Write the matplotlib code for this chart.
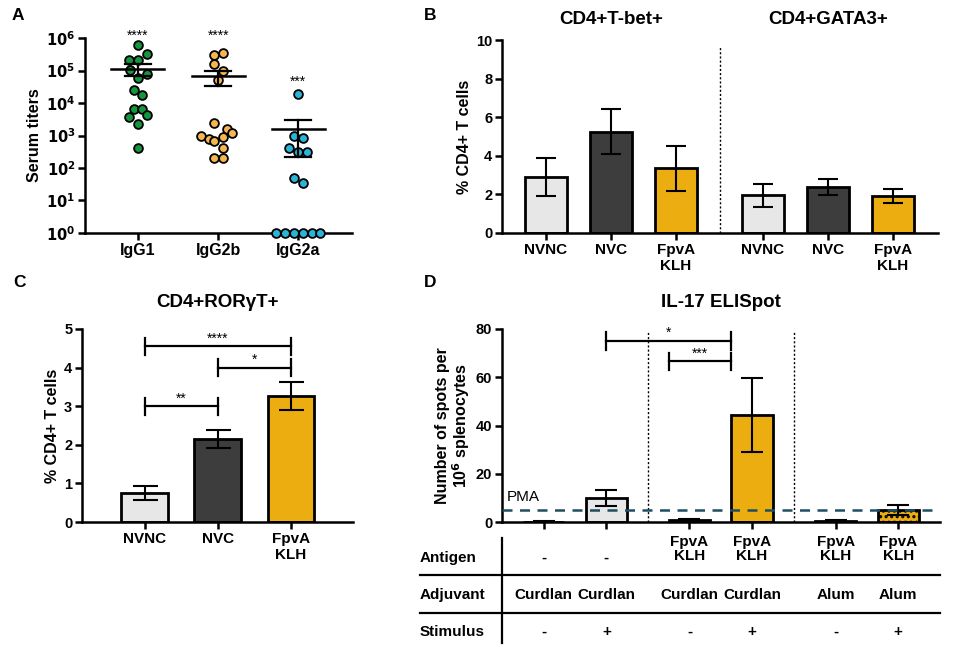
import numpy as np
import matplotlib
matplotlib.use("Agg")
import matplotlib.pyplot as plt
from matplotlib.lines import Line2D
import matplotlib.transforms as mtransforms

plt.rcParams['font.family'] = ['Liberation Sans', 'DejaVu Sans']
plt.rcParams['font.weight'] = 'bold'
plt.rcParams['hatch.linewidth'] = 1.5

# ---------------- Panel A data ----------------
a_groups = ["IgG1", "IgG2b", "IgG2a"]
a_igg1 = [5.9e5, 3.2e5, 2.1e5, 2.1e5, 1.07e5, 8e4, 5.9e4, 2.6e4, 1.8e4,
          6.6e3, 6.6e3, 3.7e3, 4.4e3, 2.3e3, 400]
a_igg1_dx = [0, 0.33, -0.33, 0, -0.3, 0.33, 0, -0.15, 0.17, -0.15, 0.17, -0.33, 0.33, 0, 0]
a_igg2b = [3.1e5, 3.5e5, 1.6e5, 1e5, 5.2e4, 2.4e3, 1.6e3, 1.2e3, 1e3, 8e2, 9e2,
           660, 420, 200, 200]
a_igg2b_dx = [-0.17, 0.17, -0.17, 0.17, 0, -0.17, 0.33, 0.5, -0.65, -0.33, 0.17,
              -0.17, 0.17, -0.17, 0.17]
a_igg2a = [1.9e4, 1e3, 830, 420, 300, 300, 51, 35, 1, 1, 1, 1, 1, 1]
a_igg2a_dx = [0, -0.17, 0.17, -0.33, 0, 0.33, -0.17, 0.17, -0.82, -0.5, -0.17, 0.17, 0.5, 0.82]
a_mean = [1.1e5, 6.6e4, 1.6e3]
a_sem_lo = [6.6e4, 3.4e4, 220]
a_sem_hi = [1.55e5, 9.5e4, 2.9e3]
a_stars = ["****", "****", "***"]
a_star_y = [1.15e6, 1.15e6, 4.5e4]
a_colors = ["#149540", "#f5b64e", "#2ab4d8"]

# ---------------- Panel B data ----------------
b_labels = ["NVNC", "NVC", "FpvA\nKLH", "NVNC", "NVC", "FpvA\nKLH"]
b_tbet = [2.9, 5.25, 3.35]
b_tbet_err = [1.0, 1.15, 1.17]
b_gata3 = [1.95, 2.4, 1.92]
b_gata3_err = [0.6, 0.42, 0.35]
b_titles = ["CD4+T-bet+", "CD4+GATA3+"]

# ---------------- Panel C data ----------------
c_labels = ["NVNC", "NVC", "FpvA\nKLH"]
c_vals = [0.75, 2.15, 3.27]
c_err = [0.18, 0.24, 0.36]
c_sig = [(0, 2, 4.55, "****"), (1, 2, 4.0, "*"), (0, 1, 3.0, "**")]

# ---------------- Panel D data ----------------
d_vals = [0.0, 10.1, 0.7, 44.2, 0.5, 5.0]
d_err = [0.3, 3.3, 0.6, 15.3, 0.4, 2.1]
d_pma = 4.8
d_sig = [(1, 3, 75.0, "*"), (2, 3, 66.6, "***")]
d_antigen = ["-", "-", "FpvA\nKLH", "FpvA\nKLH", "FpvA\nKLH", "FpvA\nKLH"]
d_adjuvant = ["Curdlan", "Curdlan", "Curdlan", "Curdlan", "Alum", "Alum"]
d_stimulus = ["-", "+", "-", "+", "-", "+"]
d_rows = ["Antigen", "Adjuvant", "Stimulus"]

COL3 = ["#e6e7e6", "#3d3d3d", "#ebad10"]

W, H = 957, 646
fig = plt.figure(figsize=(W / 100, H / 100), dpi=100)


def ax_px(l, r, t, b):
    return fig.add_axes([l / W, 1 - b / H, (r - l) / W, (b - t) / H])


def style(ax):
    for s in ["top", "right"]:
        ax.spines[s].set_visible(False)
    for s in ["left", "bottom"]:
        ax.spines[s].set_linewidth(1.8)
    ax.tick_params(width=1.8, length=5, labelsize=10.5, pad=2)
    for lab in ax.get_xticklabels() + ax.get_yticklabels():
        lab.set_fontweight('bold')


LW_BAR = 2.0
LW_ERR = 1.5

# ---------------- Panel A ----------------
axA = ax_px(85, 352, 38, 233)
axA.set_yscale('log')
axA.set_ylim(1, 1e6)
axA.set_xlim(-0.66, 2.67)
for i, (vals, dx) in enumerate([(a_igg1, a_igg1_dx), (a_igg2b, a_igg2b_dx), (a_igg2a, a_igg2a_dx)]):
    axA.scatter(np.array(dx) * 0.335 + i, vals, s=40, color=a_colors[i],
                edgecolor='black', linewidth=1.3, zorder=3, clip_on=False)
    axA.plot([i - 0.33, i + 0.33], [a_mean[i]] * 2, color='black', lw=1.8, zorder=4)
    axA.plot([i, i], [a_sem_lo[i], a_sem_hi[i]], color='black', lw=1.6, zorder=4)
    for y in (a_sem_lo[i], a_sem_hi[i]):
        axA.plot([i - 0.16, i + 0.16], [y, y], color='black', lw=1.6, zorder=4)
    axA.text(i, a_star_y[i], a_stars[i], ha='center', va='center', fontsize=10,
             fontweight='normal')
axA.set_xticks(range(3))
axA.set_xticklabels(a_groups)
axA.set_yticks([10.0 ** k for k in range(7)])
axA.set_yticklabels([r"$\mathbf{10^{%d}}$" % k for k in range(7)])
axA.minorticks_off()
axA.set_ylabel("Serum titers", fontsize=11.5, fontweight='bold', labelpad=3)
style(axA)
axA.tick_params(axis='x', labelsize=11.5)

# ---------------- Panel B ----------------
axB = ax_px(502, 938, 40, 233)
b_pos = [0, 1, 2, 3.33, 4.33, 5.33]
b_vals = b_tbet + b_gata3
b_errs = b_tbet_err + b_gata3_err
axB.bar(b_pos, b_vals, width=0.64, color=COL3 + COL3, edgecolor='black',
        linewidth=LW_BAR, zorder=2)
axB.errorbar(b_pos, b_vals, yerr=b_errs, fmt='none', ecolor='black',
             elinewidth=LW_ERR, capsize=7.5, capthick=LW_ERR, zorder=3)
axB.set_xlim(-0.67, 6.02)
axB.set_ylim(0, 10)
axB.set_yticks([0, 2, 4, 6, 8, 10])
axB.set_xticks(b_pos)
axB.set_xticklabels(b_labels)
axB.axvline(2.67, ymin=0, ymax=0.97, color='black', lw=1, ls=(0, (1.5, 1.5)))
axB.set_ylabel("% CD4+ T cells", fontsize=11.5, fontweight='bold', labelpad=3)
style(axB)
axB.tick_params(axis='x', labelsize=11)
trB = mtransforms.blended_transform_factory(axB.transData, axB.transAxes)
axB.text(1, 1.06, b_titles[0], transform=trB, ha='center', va='bottom', fontsize=13.5,
         fontweight='bold')
axB.text(4.33, 1.06, b_titles[1], transform=trB, ha='center', va='bottom', fontsize=13.5,
         fontweight='bold')


def bracket(ax, x1, x2, y, txt, h, fs=10):
    ax.plot([x1, x2], [y, y], color='black', lw=1.6, clip_on=False)
    for x in (x1, x2):
        ax.plot([x, x], [y - h, y + h], color='black', lw=1.6, clip_on=False)
    ax.text((x1 + x2) / 2, y + h * 0.1, txt, ha='center', va='bottom', fontsize=fs,
            fontweight='normal')


# ---------------- Panel C ----------------
axC = ax_px(82, 353, 329, 522)
c_pos = [0, 1, 2]
axC.bar(c_pos, c_vals, width=0.64, color=COL3, edgecolor='black', linewidth=LW_BAR, zorder=2)
axC.errorbar(c_pos, c_vals, yerr=c_err, fmt='none', ecolor='black',
             elinewidth=LW_ERR, capsize=9, capthick=LW_ERR, zorder=3)
axC.set_xlim(-0.86, 2.85)
axC.set_ylim(0, 5)
axC.set_yticks([0, 1, 2, 3, 4, 5])
axC.set_xticks(c_pos)
axC.set_xticklabels(c_labels)
axC.set_ylabel("% CD4+ T cells", fontsize=11.5, fontweight='bold', labelpad=3)
style(axC)
axC.tick_params(axis='x', labelsize=11)
for x1, x2, y, t in c_sig:
    bracket(axC, x1, x2, y, t, 0.22)
axC.set_title("CD4+RORγT+", fontsize=13.5, fontweight='bold', pad=16)

# ---------------- Panel D ----------------
axD = ax_px(502, 940, 329, 522)
d_pos = [0, 1, 2.33, 3.33, 4.67, 5.67]
d_cols = ["#e6e7e6", "#e6e7e6", "#ebad10", "#ebad10", "#ebad10", "#ebad10"]
bars = axD.bar(d_pos, d_vals, width=0.66, color=d_cols, edgecolor='black',
               linewidth=LW_BAR, zorder=2)
bars[5].set_hatch('...')
axD.errorbar(d_pos, d_vals, yerr=d_err, fmt='none', ecolor='black',
             elinewidth=LW_ERR, capsize=8, capthick=LW_ERR, zorder=3)
axD.axhline(d_pma, color='#1f4e62', lw=1.8, ls=(0, (4, 3)), zorder=4)
axD.text(-0.6, d_pma + 2.5, "PMA", fontsize=11, fontweight='normal', ha='left', va='bottom')
for xv in (1.67, 4.0):
    axD.axvline(xv, ymin=0, ymax=0.985, color='black', lw=1, ls=(0, (1.5, 1.5)))
axD.set_xlim(-0.67, 6.34)
axD.set_ylim(0, 80)
axD.set_yticks([0, 20, 40, 60, 80])
axD.set_xticks(d_pos)
axD.set_xticklabels([])
axD.set_ylabel("Number of spots per\n10$^{\\mathbf{6}}$ splenocytes", fontsize=11.5,
               fontweight='bold', labelpad=3, linespacing=1.0)
style(axD)
for x1, x2, y, t in d_sig:
    bracket(axD, x1, x2, y, t, 3.6)
axD.set_title("IL-17 ELISpot", fontsize=13.5, fontweight='bold', pad=16)

# table beneath panel D
tr = mtransforms.blended_transform_factory(axD.transData, fig.transFigure)
row_y = [1 - 549 / H, 1 - 595 / H, 1 - 632 / H]
for j, row_vals in enumerate([d_antigen, d_adjuvant, d_stimulus]):
    for xp, t in zip(d_pos, row_vals):
        yy = row_y[j] if (t != "-" or j != 0) else 1 - 558 / H
        fig.text(xp, yy, t, transform=tr, ha='center', va='center', fontsize=11,
                 fontweight='bold', linespacing=1.05)
row_label_y = [1 - 558 / H, 1 - 595 / H, 1 - 632 / H]
for lab, yy in zip(d_rows, row_label_y):
    fig.text(420 / W, yy, lab, ha='left', va='center', fontsize=11, fontweight='bold')
for yy in (575, 613):
    fig.add_artist(Line2D([420 / W, 940 / W], [1 - yy / H] * 2, color='black', lw=1.6))
fig.add_artist(Line2D([502 / W, 502 / W], [1 - 538 / H, 1 - 643 / H], color='black', lw=1.6))

# panel letters
for lab, (x, y) in zip("ABCD", [(12, 16), (424, 16), (13, 283), (424, 283)]):
    fig.text(x / W, 1 - y / H, lab, fontsize=12.5, fontweight='bold', ha='left', va='center')

fig.savefig("out.png", dpi=100)
